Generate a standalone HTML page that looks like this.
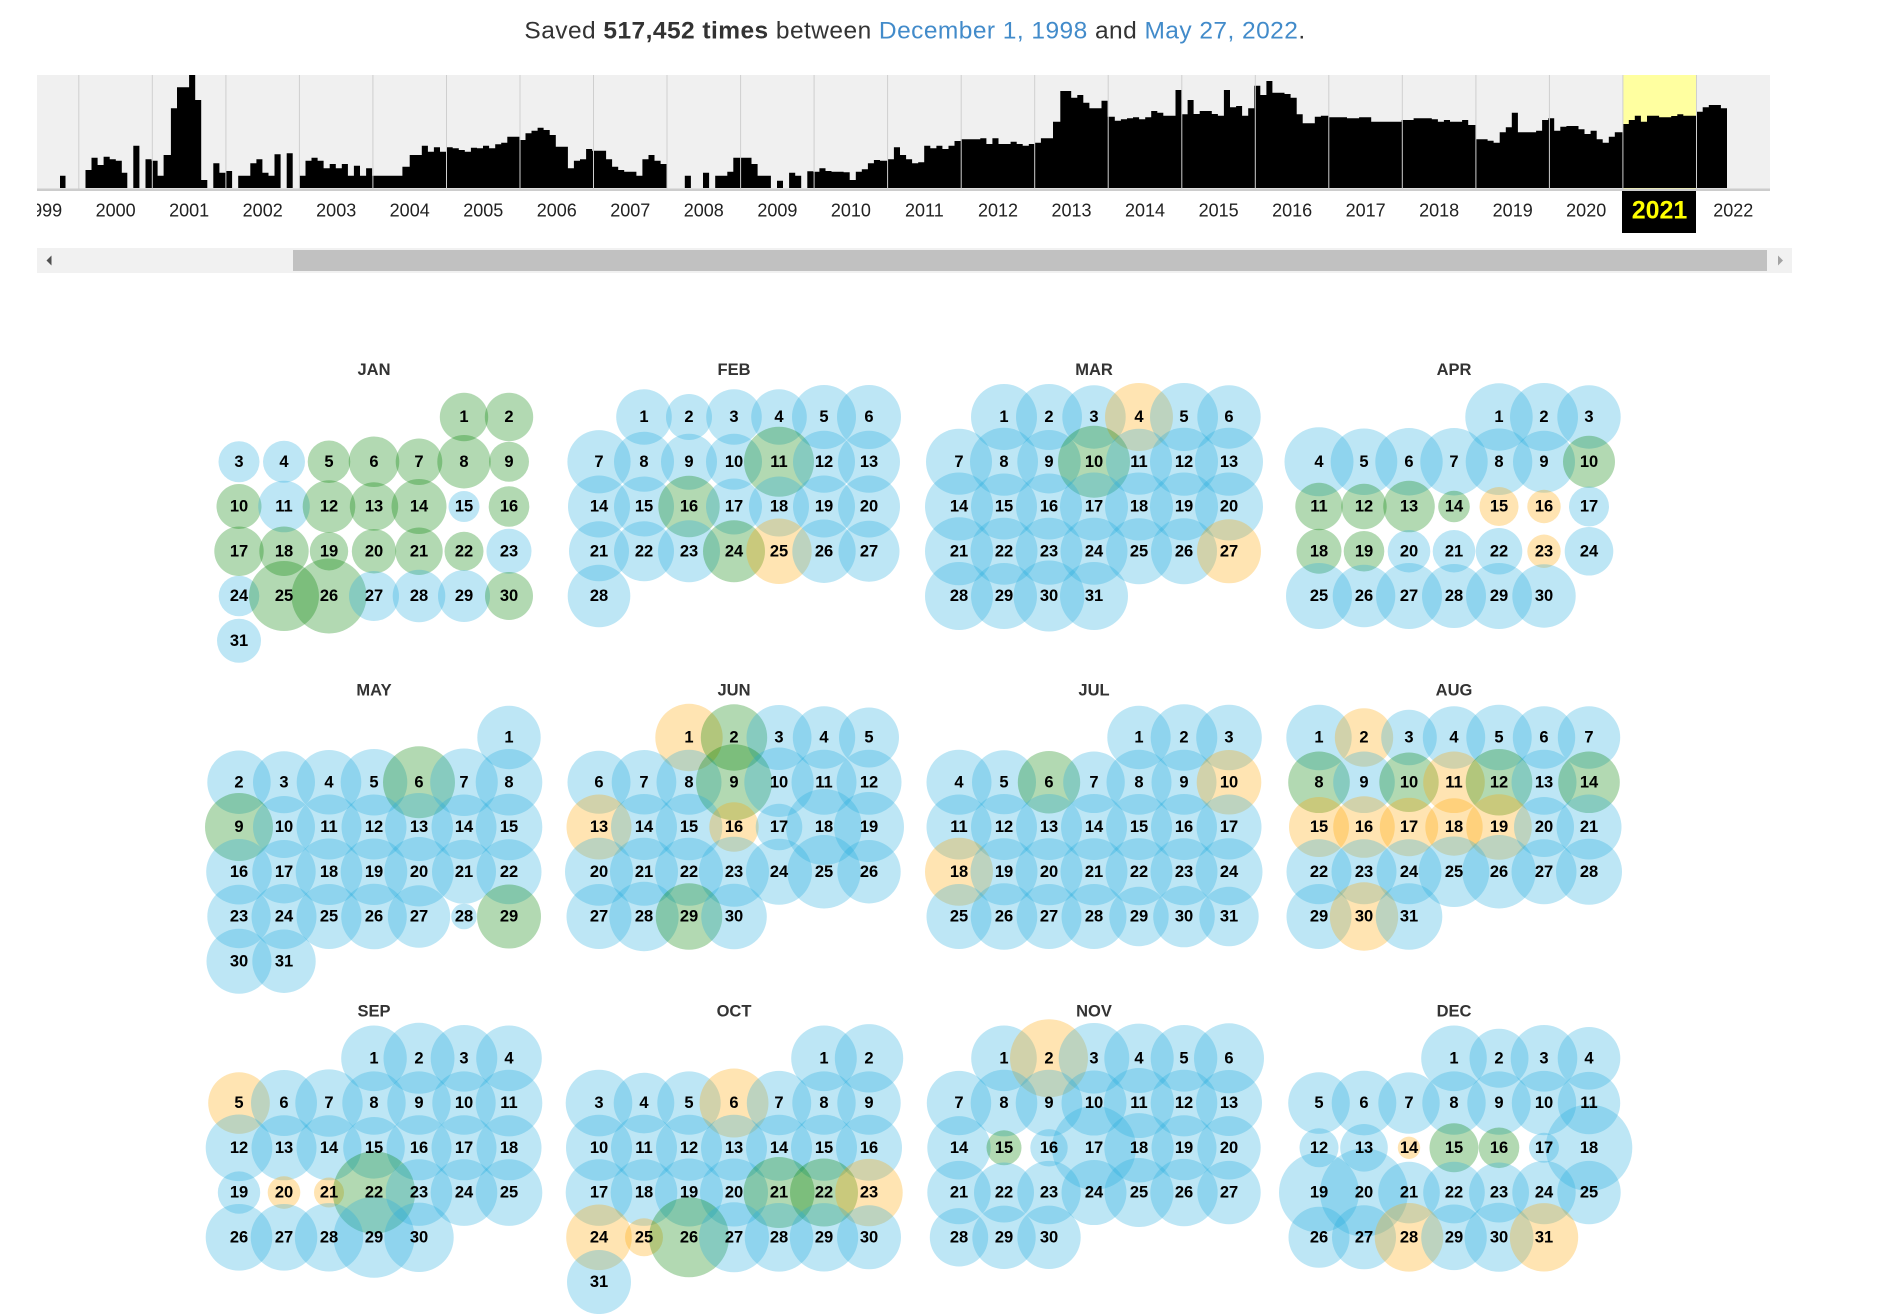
<!DOCTYPE html>
<html><head><meta charset="utf-8"><style>
html,body{margin:0;padding:0;background:#fff;width:1900px;height:1314px;overflow:hidden}
svg{display:block}
svg text{font-family:"Liberation Sans",Arial,sans-serif}
.b{fill:#26acde;fill-opacity:.3}
.g{fill:#008000;fill-opacity:.3}
.o{fill:#ffa500;fill-opacity:.3}
.n text{font-weight:bold;font-size:16.5px;text-anchor:middle;fill:#000}
.m{font-weight:bold;font-size:16.5px;text-anchor:middle;fill:#333}
.yl text{font-size:18px;text-anchor:middle;fill:#222}
</style></head><body>
<svg width="1900" height="1314" viewBox="0 0 1900 1314" xmlns="http://www.w3.org/2000/svg">
<defs><clipPath id="cp"><rect x="37" y="190" width="1733" height="45"/></clipPath></defs>
<text x="915" y="38.3" text-anchor="middle" style="font-size:24.5px;letter-spacing:.45px" fill="#333">Saved <tspan font-weight="bold">517,452 times</tspan> between <tspan fill="#428bca">December 1, 1998</tspan> and <tspan fill="#428bca">May 27, 2022</tspan>.</text>

<rect x="37" y="75" width="1733" height="114" fill="#f0f0f0"/>
<rect x="1623" y="75" width="73.5" height="114" fill="#ffffa0"/>
<path fill="#000" d="M60,188V175.7H65.5V188H85.5V170H91.5V157.7H97.6V165H103.6V156.7H109.7V159.3H115.8V160.7H121.8V172.7H127.3V188H133.3V145.7H139.4V188H145.5V159.3H151.5V160.7H157.6V175.7H163.6V155H170.9V108.3H177V87.3H189.1V75H195.2V100H201.2V180H207.3V188H213.3V163.3H219.4V172.7H225.5V171H232.1V188H238.2V175.7H250.3V163.3H256.4V159.3H262.4V172.7H268.5V175.7H274.5V154.3H280.6V188H286.7V153.3H292.7V188H299.4V175.7H305.5V160.7H311.5V157.7H317.6V160.7H323.6V168.3H329.7V164H335.8V168.3H341.8V164H347.9V175.7H353.9V165.7H360V175.7H366.1V168.3H372.1V175.7H402.4V166.7H409.7V155H421.8V145.7H427.9V151.7H433.9V147.3H440V151.7H446.7V147.3H452.7V148.3H458.8V150H464.8V151.7H470.9V147.7H477V148.3H483V145.7H489.1V148.3H495.2V144.3H501.2V142.7H507.3V136.7H519.4V140H525.5V133.3H531.5V130.7H537.6V127.7H543.6V130H549.7V135H555.8V146.7H567.9V168.3H573.9V160.7H580V159.3H586.1V149H592.1V150.7H606.1V159.3H612.1V166.7H618.2V170H624.2V171.7H636.4V175.7H642.4V159.3H648.5V155H654.5V160.7H660.6V164H666.7V188H684.8V175.7H690.9V188H703V172.7H709.1V188H715.2V175.7H727.3V171.7H733.3V157.7H751.5V164H757.6V175.7H770.9V188H777V180.7H783V188H789.1V172.7H795.2V175.7H801.2V188H807.3V171.3H813.3V171.7H819.4V168.3H825.5V171H831.5V171.7H843.6V172.3H849.7V180H855.8V171.7H861.8V169.3H867.9V163.3H873.9V160H880V160.7H887.9V159.3H893.9V147.3H900V155H906.1V159.3H912.1V163.3H918.2V162.3H924.2V145.7H930.3V148.3H936.4V145.7H942.4V149H948.5V145.7H954.5V141H960.9V139.3H980.3V138.3H986.4V144H992.4V138.3H998.5V144H1010.6V141.7H1016.7V144H1022.7V145.7H1028.8V144H1034.8V142.7H1040.9V138.3H1053V121.7H1060.3V91H1071.2V97.7H1077.3V95H1083.3V102.7H1089.4V108.3H1101.5V100.7H1107.6V116.7H1114.8V120.7H1120.9V119.3H1127V118.3H1133V117.3H1139.1V119.3H1145.2V117.3H1151.2V111H1157.3V112.7H1163.3V115.7H1175.5V90H1181.5V114.3H1187.6V100H1193.6V114H1199.7V111H1211.8V114H1217.9V115.7H1223.9V90H1230V107.3H1236.1V106H1242.1V115.7H1248.2V108.3H1254.2V85.7H1260.3V95H1266.4V81H1272.4V92.7H1284.5V94H1290.6V97.7H1296.7V114.3H1302.7V123.3H1314.8V116.7H1320.9V115.7H1328.8V117.3H1347V118.3H1359.1V117.3H1371.2V121.7H1401.5V120H1413.6V118.3H1431.8V119.3H1437.9V121.7H1443.9V120H1450V121.7H1462.1V120H1468.2V125H1475.5V139.3H1487.6V140.7H1493.6V142.7H1499.7V132.3H1505.8V127.3H1511.8V112.7H1517.9V132.3H1536.1V130.7H1542.1V120H1548.2V118.3H1554.2V130.7H1560.3V126.7H1566.4V126H1578.5V129.3H1584.5V134H1590.6V130.7H1596.7V139.3H1602.7V142.7H1608.8V136.7H1614.8V132.3H1622.7V124H1628.8V120H1634.8V115.7H1640.9V121.7H1647V115.7H1659.1V117.3H1671.2V116H1677.3V114.3H1683.3V115.7H1696.7V111.7H1702.7V107.3H1708.8V105H1720.9V108.3H1727V188Z"/>
<g stroke="#cfcfcf" stroke-width="1">
<line x1="78.8" y1="75" x2="78.8" y2="189"/><line x1="152.3" y1="75" x2="152.3" y2="189"/><line x1="225.9" y1="75" x2="225.9" y2="189"/><line x1="299.4" y1="75" x2="299.4" y2="189"/><line x1="372.9" y1="75" x2="372.9" y2="189"/><line x1="446.5" y1="75" x2="446.5" y2="189"/><line x1="520" y1="75" x2="520" y2="189"/><line x1="593.5" y1="75" x2="593.5" y2="189"/><line x1="667" y1="75" x2="667" y2="189"/><line x1="740.6" y1="75" x2="740.6" y2="189"/><line x1="814.1" y1="75" x2="814.1" y2="189"/><line x1="887.6" y1="75" x2="887.6" y2="189"/><line x1="961.2" y1="75" x2="961.2" y2="189"/><line x1="1034.7" y1="75" x2="1034.7" y2="189"/><line x1="1108.2" y1="75" x2="1108.2" y2="189"/><line x1="1181.8" y1="75" x2="1181.8" y2="189"/><line x1="1255.3" y1="75" x2="1255.3" y2="189"/><line x1="1328.8" y1="75" x2="1328.8" y2="189"/><line x1="1402.3" y1="75" x2="1402.3" y2="189"/><line x1="1475.9" y1="75" x2="1475.9" y2="189"/><line x1="1549.4" y1="75" x2="1549.4" y2="189"/><line x1="1622.9" y1="75" x2="1622.9" y2="189"/><line x1="1696.5" y1="75" x2="1696.5" y2="189"/>
</g>
<rect x="37" y="188.5" width="1733" height="2.5" fill="#cccccc"/>
<rect x="1622" y="191" width="74" height="42" fill="#000"/>
<g class="yl" clip-path="url(#cp)">
<text x="42.1" y="216.7">1999</text><text x="115.6" y="216.7">2000</text><text x="189.1" y="216.7">2001</text><text x="262.7" y="216.7">2002</text><text x="336.2" y="216.7">2003</text><text x="409.7" y="216.7">2004</text><text x="483.3" y="216.7">2005</text><text x="556.8" y="216.7">2006</text><text x="630.3" y="216.7">2007</text><text x="703.8" y="216.7">2008</text><text x="777.4" y="216.7">2009</text><text x="850.9" y="216.7">2010</text><text x="924.4" y="216.7">2011</text><text x="998" y="216.7">2012</text><text x="1071.5" y="216.7">2013</text><text x="1145" y="216.7">2014</text><text x="1218.6" y="216.7">2015</text><text x="1292.1" y="216.7">2016</text><text x="1365.6" y="216.7">2017</text><text x="1439.1" y="216.7">2018</text><text x="1512.7" y="216.7">2019</text><text x="1586.2" y="216.7">2020</text><text x="1733.3" y="216.7">2022</text>
</g>
<text x="1659.5" y="218.3" text-anchor="middle" style="font-size:25px;font-weight:bold" fill="#ffff00">2021</text>

<rect x="37" y="248" width="1755" height="25" fill="#f1f1f1"/>
<rect x="293" y="250" width="1474" height="21" fill="#c1c1c1"/>
<polygon points="46.5,260.5 51.5,255.5 51.5,265.5" fill="#505050"/>
<polygon points="1783,260.5 1778,255.5 1778,265.5" fill="#a3a3a3"/>

<!-- CIRCLES -->
<g transform="translate(239,417)">
<circle class="g" cx="225" cy="0" r="24.2"/><circle class="g" cx="270" cy="0" r="24.2"/>
<circle class="b" cx="0" cy="44.75" r="20.5"/><circle class="b" cx="45" cy="44.75" r="21"/><circle class="g" cx="90" cy="44.75" r="21.3"/><circle class="g" cx="135" cy="44.75" r="25.3"/><circle class="g" cx="180" cy="44.75" r="23.3"/><circle class="g" cx="225" cy="44.75" r="26.7"/><circle class="g" cx="270" cy="44.75" r="20"/>
<circle class="g" cx="0" cy="89.5" r="22.5"/><circle class="b" cx="45" cy="89.5" r="25.8"/><circle class="g" cx="90" cy="89.5" r="26.3"/><circle class="g" cx="135" cy="89.5" r="24.2"/><circle class="g" cx="180" cy="89.5" r="27.5"/><circle class="b" cx="225" cy="89.5" r="15.5"/><circle class="g" cx="270" cy="89.5" r="20.3"/>
<circle class="g" cx="0" cy="134.25" r="24.7"/><circle class="g" cx="45" cy="134.25" r="24.7"/><circle class="g" cx="90" cy="134.25" r="19.2"/><circle class="g" cx="135" cy="134.25" r="22.2"/><circle class="g" cx="180" cy="134.25" r="23.7"/><circle class="g" cx="225" cy="134.25" r="19.5"/><circle class="b" cx="270" cy="134.25" r="22.5"/>
<circle class="b" cx="0" cy="179" r="20.3"/><circle class="g" cx="45" cy="179" r="35"/><circle class="g" cx="90" cy="179" r="37.5"/><circle class="b" cx="135" cy="179" r="25"/><circle class="b" cx="180" cy="179" r="26.3"/><circle class="b" cx="225" cy="179" r="26"/><circle class="g" cx="270" cy="179" r="24"/>
<circle class="b" cx="0" cy="223.75" r="22"/>
</g>
<g transform="translate(599,417)">
<circle class="b" cx="45" cy="0" r="27.8"/><circle class="b" cx="90" cy="0" r="23"/><circle class="b" cx="135" cy="0" r="27.8"/><circle class="b" cx="180" cy="0" r="27.8"/><circle class="b" cx="225" cy="0" r="32"/><circle class="b" cx="270" cy="0" r="32"/>
<circle class="b" cx="0" cy="44.75" r="31.6"/><circle class="b" cx="45" cy="44.75" r="30"/><circle class="b" cx="90" cy="44.75" r="28"/><circle class="b" cx="135" cy="44.75" r="28"/><circle class="g" cx="180" cy="44.75" r="35"/><circle class="b" cx="225" cy="44.75" r="31"/><circle class="b" cx="270" cy="44.75" r="31"/>
<circle class="b" cx="0" cy="89.5" r="31"/><circle class="b" cx="45" cy="89.5" r="30"/><circle class="g" cx="90" cy="89.5" r="30.7"/><circle class="b" cx="135" cy="89.5" r="28"/><circle class="b" cx="180" cy="89.5" r="30"/><circle class="b" cx="225" cy="89.5" r="31"/><circle class="b" cx="270" cy="89.5" r="31"/>
<circle class="b" cx="0" cy="134.25" r="30"/><circle class="b" cx="45" cy="134.25" r="30"/><circle class="b" cx="90" cy="134.25" r="31"/><circle class="g" cx="135" cy="134.25" r="31"/><circle class="o" cx="180" cy="134.25" r="32.7"/><circle class="b" cx="225" cy="134.25" r="31.7"/><circle class="b" cx="270" cy="134.25" r="30.5"/>
<circle class="b" cx="0" cy="179" r="31.3"/>
</g>
<g transform="translate(959,417)">
<circle class="b" cx="45" cy="0" r="33"/><circle class="b" cx="90" cy="0" r="33"/><circle class="b" cx="135" cy="0" r="31.7"/><circle class="o" cx="180" cy="0" r="34"/><circle class="b" cx="225" cy="0" r="34"/><circle class="b" cx="270" cy="0" r="31.7"/>
<circle class="b" cx="0" cy="44.75" r="33"/><circle class="b" cx="45" cy="44.75" r="34"/><circle class="b" cx="90" cy="44.75" r="31.7"/><circle class="g" cx="135" cy="44.75" r="36"/><circle class="b" cx="180" cy="44.75" r="33"/><circle class="b" cx="225" cy="44.75" r="34"/><circle class="b" cx="270" cy="44.75" r="34"/>
<circle class="b" cx="0" cy="89.5" r="34"/><circle class="b" cx="45" cy="89.5" r="33"/><circle class="b" cx="90" cy="89.5" r="33"/><circle class="b" cx="135" cy="89.5" r="34"/><circle class="b" cx="180" cy="89.5" r="34"/><circle class="b" cx="225" cy="89.5" r="34"/><circle class="b" cx="270" cy="89.5" r="34"/>
<circle class="b" cx="0" cy="134.25" r="34"/><circle class="b" cx="45" cy="134.25" r="33.5"/><circle class="b" cx="90" cy="134.25" r="33.5"/><circle class="b" cx="135" cy="134.25" r="33.5"/><circle class="b" cx="180" cy="134.25" r="33"/><circle class="b" cx="225" cy="134.25" r="33"/><circle class="o" cx="270" cy="134.25" r="32"/>
<circle class="b" cx="0" cy="179" r="34"/><circle class="b" cx="45" cy="179" r="33"/><circle class="b" cx="90" cy="179" r="35.5"/><circle class="b" cx="135" cy="179" r="34"/>
</g>
<g transform="translate(1319,417)">
<circle class="b" cx="180" cy="0" r="33.7"/><circle class="b" cx="225" cy="0" r="34"/><circle class="b" cx="270" cy="0" r="31.7"/>
<circle class="b" cx="0" cy="44.75" r="34.5"/><circle class="b" cx="45" cy="44.75" r="33.3"/><circle class="b" cx="90" cy="44.75" r="33.7"/><circle class="b" cx="135" cy="44.75" r="33.7"/><circle class="b" cx="180" cy="44.75" r="33.3"/><circle class="b" cx="225" cy="44.75" r="31"/><circle class="g" cx="270" cy="44.75" r="26"/>
<circle class="g" cx="0" cy="89.5" r="23.7"/><circle class="g" cx="45" cy="89.5" r="22.7"/><circle class="g" cx="90" cy="89.5" r="25.8"/><circle class="g" cx="135" cy="89.5" r="15.8"/><circle class="o" cx="180" cy="89.5" r="19.5"/><circle class="o" cx="225" cy="89.5" r="16.7"/><circle class="b" cx="270" cy="89.5" r="20"/>
<circle class="g" cx="0" cy="134.25" r="22.5"/><circle class="g" cx="45" cy="134.25" r="20.3"/><circle class="b" cx="90" cy="134.25" r="21.3"/><circle class="b" cx="135" cy="134.25" r="21.3"/><circle class="b" cx="180" cy="134.25" r="23.3"/><circle class="o" cx="225" cy="134.25" r="16.7"/><circle class="b" cx="270" cy="134.25" r="24.3"/>
<circle class="b" cx="0" cy="179" r="33"/><circle class="b" cx="45" cy="179" r="31.3"/><circle class="b" cx="90" cy="179" r="33"/><circle class="b" cx="135" cy="179" r="32"/><circle class="b" cx="180" cy="179" r="33"/><circle class="b" cx="225" cy="179" r="31.7"/>
</g>
<g transform="translate(239,737.5)">
<circle class="b" cx="270" cy="0" r="31.7"/>
<circle class="b" cx="0" cy="44.75" r="31.7"/><circle class="b" cx="45" cy="44.75" r="31"/><circle class="b" cx="90" cy="44.75" r="32.3"/><circle class="b" cx="135" cy="44.75" r="33.3"/><circle class="g" cx="180" cy="44.75" r="36"/><circle class="b" cx="225" cy="44.75" r="33.8"/><circle class="b" cx="270" cy="44.75" r="33.3"/>
<circle class="g" cx="0" cy="89.5" r="34"/><circle class="b" cx="45" cy="89.5" r="31"/><circle class="b" cx="90" cy="89.5" r="32.5"/><circle class="b" cx="135" cy="89.5" r="32.5"/><circle class="b" cx="180" cy="89.5" r="34"/><circle class="b" cx="225" cy="89.5" r="32.5"/><circle class="b" cx="270" cy="89.5" r="33.3"/>
<circle class="b" cx="0" cy="134.25" r="32.8"/><circle class="b" cx="45" cy="134.25" r="31.7"/><circle class="b" cx="90" cy="134.25" r="33.3"/><circle class="b" cx="135" cy="134.25" r="33.3"/><circle class="b" cx="180" cy="134.25" r="34.7"/><circle class="b" cx="225" cy="134.25" r="32"/><circle class="b" cx="270" cy="134.25" r="32.5"/>
<circle class="b" cx="0" cy="179" r="31.7"/><circle class="b" cx="45" cy="179" r="32.5"/><circle class="b" cx="90" cy="179" r="32.5"/><circle class="b" cx="135" cy="179" r="32.8"/><circle class="b" cx="180" cy="179" r="31.2"/><circle class="b" cx="225" cy="179" r="12.8"/><circle class="g" cx="270" cy="179" r="32"/>
<circle class="b" cx="0" cy="223.75" r="32.5"/><circle class="b" cx="45" cy="223.75" r="31.7"/>
</g>
<g transform="translate(599,737.5)">
<circle class="o" cx="90" cy="0" r="33.7"/><circle class="g" cx="135" cy="0" r="33.2"/><circle class="b" cx="180" cy="0" r="32.5"/><circle class="b" cx="225" cy="0" r="31.2"/><circle class="b" cx="270" cy="0" r="30"/>
<circle class="b" cx="0" cy="44.75" r="31.5"/><circle class="b" cx="45" cy="44.75" r="32.3"/><circle class="b" cx="90" cy="44.75" r="32.5"/><circle class="g" cx="135" cy="44.75" r="38"/><circle class="b" cx="180" cy="44.75" r="34.7"/><circle class="b" cx="225" cy="44.75" r="32.5"/><circle class="b" cx="270" cy="44.75" r="32.5"/>
<circle class="o" cx="0" cy="89.5" r="32.5"/><circle class="b" cx="45" cy="89.5" r="33"/><circle class="b" cx="90" cy="89.5" r="33.3"/><circle class="o" cx="135" cy="89.5" r="24.7"/><circle class="b" cx="180" cy="89.5" r="23.3"/><circle class="b" cx="225" cy="89.5" r="38"/><circle class="b" cx="270" cy="89.5" r="35"/>
<circle class="b" cx="0" cy="134.25" r="34"/><circle class="b" cx="45" cy="134.25" r="34"/><circle class="b" cx="90" cy="134.25" r="34"/><circle class="b" cx="135" cy="134.25" r="35"/><circle class="b" cx="180" cy="134.25" r="33"/><circle class="b" cx="225" cy="134.25" r="36.7"/><circle class="b" cx="270" cy="134.25" r="31.7"/>
<circle class="b" cx="0" cy="179" r="32.5"/><circle class="b" cx="45" cy="179" r="34.7"/><circle class="g" cx="90" cy="179" r="33.3"/><circle class="b" cx="135" cy="179" r="32.8"/>
</g>
<g transform="translate(959,737.5)">
<circle class="b" cx="180" cy="0" r="31.7"/><circle class="b" cx="225" cy="0" r="33.3"/><circle class="b" cx="270" cy="0" r="32.8"/>
<circle class="b" cx="0" cy="44.75" r="32.5"/><circle class="b" cx="45" cy="44.75" r="32"/><circle class="g" cx="90" cy="44.75" r="31.2"/><circle class="b" cx="135" cy="44.75" r="30.8"/><circle class="b" cx="180" cy="44.75" r="32.5"/><circle class="b" cx="225" cy="44.75" r="32.5"/><circle class="o" cx="270" cy="44.75" r="32.3"/>
<circle class="b" cx="0" cy="89.5" r="32.5"/><circle class="b" cx="45" cy="89.5" r="33"/><circle class="b" cx="90" cy="89.5" r="33"/><circle class="b" cx="135" cy="89.5" r="33"/><circle class="b" cx="180" cy="89.5" r="33"/><circle class="b" cx="225" cy="89.5" r="33"/><circle class="b" cx="270" cy="89.5" r="32.5"/>
<circle class="o" cx="0" cy="134.25" r="34"/><circle class="b" cx="45" cy="134.25" r="33.5"/><circle class="b" cx="90" cy="134.25" r="33.5"/><circle class="b" cx="135" cy="134.25" r="33.5"/><circle class="b" cx="180" cy="134.25" r="33.5"/><circle class="b" cx="225" cy="134.25" r="33.5"/><circle class="b" cx="270" cy="134.25" r="33.5"/>
<circle class="b" cx="0" cy="179" r="32.5"/><circle class="b" cx="45" cy="179" r="33.3"/><circle class="b" cx="90" cy="179" r="32.5"/><circle class="b" cx="135" cy="179" r="32.5"/><circle class="b" cx="180" cy="179" r="29.7"/><circle class="b" cx="225" cy="179" r="30.8"/><circle class="b" cx="270" cy="179" r="29.7"/>
</g>
<g transform="translate(1319,737.5)">
<circle class="b" cx="0" cy="0" r="32.7"/><circle class="o" cx="45" cy="0" r="29.2"/><circle class="b" cx="90" cy="0" r="27.8"/><circle class="b" cx="135" cy="0" r="31.2"/><circle class="b" cx="180" cy="0" r="32.7"/><circle class="b" cx="225" cy="0" r="31.2"/><circle class="b" cx="270" cy="0" r="31.2"/>
<circle class="g" cx="0" cy="44.75" r="30.8"/><circle class="b" cx="45" cy="44.75" r="30.8"/><circle class="g" cx="90" cy="44.75" r="29.7"/><circle class="o" cx="135" cy="44.75" r="30.8"/><circle class="g" cx="180" cy="44.75" r="33.3"/><circle class="b" cx="225" cy="44.75" r="32.5"/><circle class="g" cx="270" cy="44.75" r="30.8"/>
<circle class="o" cx="0" cy="89.5" r="30"/><circle class="o" cx="45" cy="89.5" r="30.8"/><circle class="o" cx="90" cy="89.5" r="29.2"/><circle class="o" cx="135" cy="89.5" r="28.7"/><circle class="o" cx="180" cy="89.5" r="32.8"/><circle class="b" cx="225" cy="89.5" r="30"/><circle class="b" cx="270" cy="89.5" r="32.5"/>
<circle class="b" cx="0" cy="134.25" r="32.5"/><circle class="b" cx="45" cy="134.25" r="32.5"/><circle class="b" cx="90" cy="134.25" r="32.5"/><circle class="b" cx="135" cy="134.25" r="35.3"/><circle class="b" cx="180" cy="134.25" r="36.7"/><circle class="b" cx="225" cy="134.25" r="32.5"/><circle class="b" cx="270" cy="134.25" r="33"/>
<circle class="b" cx="0" cy="179" r="32.5"/><circle class="o" cx="45" cy="179" r="34.2"/><circle class="b" cx="90" cy="179" r="33.3"/>
</g>
<g transform="translate(239,1058.3)">
<circle class="b" cx="135" cy="0" r="32.8"/><circle class="b" cx="180" cy="0" r="35.5"/><circle class="b" cx="225" cy="0" r="33.3"/><circle class="b" cx="270" cy="0" r="32.8"/>
<circle class="o" cx="0" cy="44.75" r="30.8"/><circle class="b" cx="45" cy="44.75" r="33"/><circle class="b" cx="90" cy="44.75" r="33.7"/><circle class="b" cx="135" cy="44.75" r="31.7"/><circle class="b" cx="180" cy="44.75" r="31.7"/><circle class="b" cx="225" cy="44.75" r="31.7"/><circle class="b" cx="270" cy="44.75" r="33.3"/>
<circle class="b" cx="0" cy="89.5" r="33.3"/><circle class="b" cx="45" cy="89.5" r="32.5"/><circle class="b" cx="90" cy="89.5" r="32.5"/><circle class="b" cx="135" cy="89.5" r="30.8"/><circle class="b" cx="180" cy="89.5" r="32.5"/><circle class="b" cx="225" cy="89.5" r="32.5"/><circle class="b" cx="270" cy="89.5" r="32.5"/>
<circle class="b" cx="0" cy="134.25" r="21.2"/><circle class="o" cx="45" cy="134.25" r="16.3"/><circle class="o" cx="90" cy="134.25" r="15"/><circle class="g" cx="135" cy="134.25" r="41.2"/><circle class="b" cx="180" cy="134.25" r="33.3"/><circle class="b" cx="225" cy="134.25" r="33.3"/><circle class="b" cx="270" cy="134.25" r="33.3"/>
<circle class="b" cx="0" cy="179" r="33.3"/><circle class="b" cx="45" cy="179" r="33.3"/><circle class="b" cx="90" cy="179" r="34.2"/><circle class="b" cx="135" cy="179" r="40.5"/><circle class="b" cx="180" cy="179" r="34.7"/>
</g>
<g transform="translate(599,1058.3)">
<circle class="b" cx="225" cy="0" r="32.8"/><circle class="b" cx="270" cy="0" r="34.2"/>
<circle class="b" cx="0" cy="44.75" r="33.3"/><circle class="b" cx="45" cy="44.75" r="30.3"/><circle class="b" cx="90" cy="44.75" r="31.7"/><circle class="o" cx="135" cy="44.75" r="34.5"/><circle class="b" cx="180" cy="44.75" r="32.2"/><circle class="b" cx="225" cy="44.75" r="31.7"/><circle class="b" cx="270" cy="44.75" r="31.7"/>
<circle class="b" cx="0" cy="89.5" r="33"/><circle class="b" cx="45" cy="89.5" r="33"/><circle class="b" cx="90" cy="89.5" r="33"/><circle class="b" cx="135" cy="89.5" r="33"/><circle class="b" cx="180" cy="89.5" r="33"/><circle class="b" cx="225" cy="89.5" r="33"/><circle class="b" cx="270" cy="89.5" r="33"/>
<circle class="b" cx="0" cy="134.25" r="33.3"/><circle class="b" cx="45" cy="134.25" r="33.3"/><circle class="b" cx="90" cy="134.25" r="34"/><circle class="b" cx="135" cy="134.25" r="34"/><circle class="g" cx="180" cy="134.25" r="35.5"/><circle class="g" cx="225" cy="134.25" r="34"/><circle class="o" cx="270" cy="134.25" r="33.7"/>
<circle class="o" cx="0" cy="179" r="32.8"/><circle class="o" cx="45" cy="179" r="19"/><circle class="g" cx="90" cy="179" r="40"/><circle class="b" cx="135" cy="179" r="35"/><circle class="b" cx="180" cy="179" r="34.3"/><circle class="b" cx="225" cy="179" r="34.2"/><circle class="b" cx="270" cy="179" r="32"/>
<circle class="b" cx="0" cy="223.75" r="32"/>
</g>
<g transform="translate(959,1058.3)">
<circle class="b" cx="45" cy="0" r="32.8"/><circle class="o" cx="90" cy="0" r="39"/><circle class="b" cx="135" cy="0" r="35.3"/><circle class="b" cx="180" cy="0" r="34.7"/><circle class="b" cx="225" cy="0" r="33.3"/><circle class="b" cx="270" cy="0" r="35"/>
<circle class="b" cx="0" cy="44.75" r="32.2"/><circle class="b" cx="45" cy="44.75" r="33.3"/><circle class="b" cx="90" cy="44.75" r="33.3"/><circle class="b" cx="135" cy="44.75" r="32.5"/><circle class="b" cx="180" cy="44.75" r="35"/><circle class="b" cx="225" cy="44.75" r="33.3"/><circle class="b" cx="270" cy="44.75" r="33"/>
<circle class="b" cx="0" cy="89.5" r="31.7"/><circle class="g" cx="45" cy="89.5" r="17.5"/><circle class="b" cx="90" cy="89.5" r="18.7"/><circle class="b" cx="135" cy="89.5" r="42"/><circle class="b" cx="180" cy="89.5" r="34.7"/><circle class="b" cx="225" cy="89.5" r="32.5"/><circle class="b" cx="270" cy="89.5" r="31.7"/>
<circle class="b" cx="0" cy="134.25" r="31.7"/><circle class="b" cx="45" cy="134.25" r="30"/><circle class="b" cx="90" cy="134.25" r="31.7"/><circle class="b" cx="135" cy="134.25" r="32.5"/><circle class="b" cx="180" cy="134.25" r="34.5"/><circle class="b" cx="225" cy="134.25" r="33.7"/><circle class="b" cx="270" cy="134.25" r="31.7"/>
<circle class="b" cx="0" cy="179" r="29.2"/><circle class="b" cx="45" cy="179" r="31.7"/><circle class="b" cx="90" cy="179" r="31.7"/>
</g>
<g transform="translate(1319,1058.3)">
<circle class="b" cx="135" cy="0" r="32.8"/><circle class="b" cx="180" cy="0" r="29.5"/><circle class="b" cx="225" cy="0" r="33.3"/><circle class="b" cx="270" cy="0" r="31.3"/>
<circle class="b" cx="0" cy="44.75" r="30.8"/><circle class="b" cx="45" cy="44.75" r="32.3"/><circle class="b" cx="90" cy="44.75" r="30.7"/><circle class="b" cx="135" cy="44.75" r="31.7"/><circle class="b" cx="180" cy="44.75" r="31.7"/><circle class="b" cx="225" cy="44.75" r="32.2"/><circle class="b" cx="270" cy="44.75" r="31.2"/>
<circle class="b" cx="0" cy="89.5" r="19.5"/><circle class="b" cx="45" cy="89.5" r="23.8"/><circle class="o" cx="90" cy="89.5" r="11.2"/><circle class="g" cx="135" cy="89.5" r="24.5"/><circle class="g" cx="180" cy="89.5" r="20.3"/><circle class="b" cx="225" cy="89.5" r="15"/><circle class="b" cx="270" cy="89.5" r="43.3"/>
<circle class="b" cx="0" cy="134.25" r="40"/><circle class="b" cx="45" cy="134.25" r="44"/><circle class="b" cx="90" cy="134.25" r="30.8"/><circle class="b" cx="135" cy="134.25" r="30.8"/><circle class="b" cx="180" cy="134.25" r="30"/><circle class="b" cx="225" cy="134.25" r="31.7"/><circle class="b" cx="270" cy="134.25" r="31.7"/>
<circle class="b" cx="0" cy="179" r="30.5"/><circle class="b" cx="45" cy="179" r="32"/><circle class="o" cx="90" cy="179" r="34.3"/><circle class="b" cx="135" cy="179" r="32.8"/><circle class="b" cx="180" cy="179" r="34.5"/><circle class="o" cx="225" cy="179" r="34.2"/>
</g>

<!-- MONTH LABELS -->
<text class="m" x="374" y="375">JAN</text><text class="m" x="734" y="375">FEB</text><text class="m" x="1094" y="375">MAR</text><text class="m" x="1454" y="375">APR</text>
<text class="m" x="374" y="695.5">MAY</text><text class="m" x="734" y="695.5">JUN</text><text class="m" x="1094" y="695.5">JUL</text><text class="m" x="1454" y="695.5">AUG</text>
<text class="m" x="374" y="1016.3">SEP</text><text class="m" x="734" y="1016.3">OCT</text><text class="m" x="1094" y="1016.3">NOV</text><text class="m" x="1454" y="1016.3">DEC</text>

<!-- DAY NUMBERS -->
<g class="n" transform="translate(239,422)">
<text x="225" y="0">1</text><text x="270" y="0">2</text>
<text x="0" y="44.75">3</text><text x="45" y="44.75">4</text><text x="90" y="44.75">5</text><text x="135" y="44.75">6</text><text x="180" y="44.75">7</text><text x="225" y="44.75">8</text><text x="270" y="44.75">9</text>
<text x="0" y="89.5">10</text><text x="45" y="89.5">11</text><text x="90" y="89.5">12</text><text x="135" y="89.5">13</text><text x="180" y="89.5">14</text><text x="225" y="89.5">15</text><text x="270" y="89.5">16</text>
<text x="0" y="134.25">17</text><text x="45" y="134.25">18</text><text x="90" y="134.25">19</text><text x="135" y="134.25">20</text><text x="180" y="134.25">21</text><text x="225" y="134.25">22</text><text x="270" y="134.25">23</text>
<text x="0" y="179">24</text><text x="45" y="179">25</text><text x="90" y="179">26</text><text x="135" y="179">27</text><text x="180" y="179">28</text><text x="225" y="179">29</text><text x="270" y="179">30</text>
<text x="0" y="223.75">31</text>
</g>
<g class="n" transform="translate(599,422)">
<text x="45" y="0">1</text><text x="90" y="0">2</text><text x="135" y="0">3</text><text x="180" y="0">4</text><text x="225" y="0">5</text><text x="270" y="0">6</text>
<text x="0" y="44.75">7</text><text x="45" y="44.75">8</text><text x="90" y="44.75">9</text><text x="135" y="44.75">10</text><text x="180" y="44.75">11</text><text x="225" y="44.75">12</text><text x="270" y="44.75">13</text>
<text x="0" y="89.5">14</text><text x="45" y="89.5">15</text><text x="90" y="89.5">16</text><text x="135" y="89.5">17</text><text x="180" y="89.5">18</text><text x="225" y="89.5">19</text><text x="270" y="89.5">20</text>
<text x="0" y="134.25">21</text><text x="45" y="134.25">22</text><text x="90" y="134.25">23</text><text x="135" y="134.25">24</text><text x="180" y="134.25">25</text><text x="225" y="134.25">26</text><text x="270" y="134.25">27</text>
<text x="0" y="179">28</text>
</g>
<g class="n" transform="translate(959,422)">
<text x="45" y="0">1</text><text x="90" y="0">2</text><text x="135" y="0">3</text><text x="180" y="0">4</text><text x="225" y="0">5</text><text x="270" y="0">6</text>
<text x="0" y="44.75">7</text><text x="45" y="44.75">8</text><text x="90" y="44.75">9</text><text x="135" y="44.75">10</text><text x="180" y="44.75">11</text><text x="225" y="44.75">12</text><text x="270" y="44.75">13</text>
<text x="0" y="89.5">14</text><text x="45" y="89.5">15</text><text x="90" y="89.5">16</text><text x="135" y="89.5">17</text><text x="180" y="89.5">18</text><text x="225" y="89.5">19</text><text x="270" y="89.5">20</text>
<text x="0" y="134.25">21</text><text x="45" y="134.25">22</text><text x="90" y="134.25">23</text><text x="135" y="134.25">24</text><text x="180" y="134.25">25</text><text x="225" y="134.25">26</text><text x="270" y="134.25">27</text>
<text x="0" y="179">28</text><text x="45" y="179">29</text><text x="90" y="179">30</text><text x="135" y="179">31</text>
</g>
<g class="n" transform="translate(1319,422)">
<text x="180" y="0">1</text><text x="225" y="0">2</text><text x="270" y="0">3</text>
<text x="0" y="44.75">4</text><text x="45" y="44.75">5</text><text x="90" y="44.75">6</text><text x="135" y="44.75">7</text><text x="180" y="44.75">8</text><text x="225" y="44.75">9</text><text x="270" y="44.75">10</text>
<text x="0" y="89.5">11</text><text x="45" y="89.5">12</text><text x="90" y="89.5">13</text><text x="135" y="89.5">14</text><text x="180" y="89.5">15</text><text x="225" y="89.5">16</text><text x="270" y="89.5">17</text>
<text x="0" y="134.25">18</text><text x="45" y="134.25">19</text><text x="90" y="134.25">20</text><text x="135" y="134.25">21</text><text x="180" y="134.25">22</text><text x="225" y="134.25">23</text><text x="270" y="134.25">24</text>
<text x="0" y="179">25</text><text x="45" y="179">26</text><text x="90" y="179">27</text><text x="135" y="179">28</text><text x="180" y="179">29</text><text x="225" y="179">30</text>
</g>
<g class="n" transform="translate(239,742.5)">
<text x="270" y="0">1</text>
<text x="0" y="44.75">2</text><text x="45" y="44.75">3</text><text x="90" y="44.75">4</text><text x="135" y="44.75">5</text><text x="180" y="44.75">6</text><text x="225" y="44.75">7</text><text x="270" y="44.75">8</text>
<text x="0" y="89.5">9</text><text x="45" y="89.5">10</text><text x="90" y="89.5">11</text><text x="135" y="89.5">12</text><text x="180" y="89.5">13</text><text x="225" y="89.5">14</text><text x="270" y="89.5">15</text>
<text x="0" y="134.25">16</text><text x="45" y="134.25">17</text><text x="90" y="134.25">18</text><text x="135" y="134.25">19</text><text x="180" y="134.25">20</text><text x="225" y="134.25">21</text><text x="270" y="134.25">22</text>
<text x="0" y="179">23</text><text x="45" y="179">24</text><text x="90" y="179">25</text><text x="135" y="179">26</text><text x="180" y="179">27</text><text x="225" y="179">28</text><text x="270" y="179">29</text>
<text x="0" y="223.75">30</text><text x="45" y="223.75">31</text>
</g>
<g class="n" transform="translate(599,742.5)">
<text x="90" y="0">1</text><text x="135" y="0">2</text><text x="180" y="0">3</text><text x="225" y="0">4</text><text x="270" y="0">5</text>
<text x="0" y="44.75">6</text><text x="45" y="44.75">7</text><text x="90" y="44.75">8</text><text x="135" y="44.75">9</text><text x="180" y="44.75">10</text><text x="225" y="44.75">11</text><text x="270" y="44.75">12</text>
<text x="0" y="89.5">13</text><text x="45" y="89.5">14</text><text x="90" y="89.5">15</text><text x="135" y="89.5">16</text><text x="180" y="89.5">17</text><text x="225" y="89.5">18</text><text x="270" y="89.5">19</text>
<text x="0" y="134.25">20</text><text x="45" y="134.25">21</text><text x="90" y="134.25">22</text><text x="135" y="134.25">23</text><text x="180" y="134.25">24</text><text x="225" y="134.25">25</text><text x="270" y="134.25">26</text>
<text x="0" y="179">27</text><text x="45" y="179">28</text><text x="90" y="179">29</text><text x="135" y="179">30</text>
</g>
<g class="n" transform="translate(959,742.5)">
<text x="180" y="0">1</text><text x="225" y="0">2</text><text x="270" y="0">3</text>
<text x="0" y="44.75">4</text><text x="45" y="44.75">5</text><text x="90" y="44.75">6</text><text x="135" y="44.75">7</text><text x="180" y="44.75">8</text><text x="225" y="44.75">9</text><text x="270" y="44.75">10</text>
<text x="0" y="89.5">11</text><text x="45" y="89.5">12</text><text x="90" y="89.5">13</text><text x="135" y="89.5">14</text><text x="180" y="89.5">15</text><text x="225" y="89.5">16</text><text x="270" y="89.5">17</text>
<text x="0" y="134.25">18</text><text x="45" y="134.25">19</text><text x="90" y="134.25">20</text><text x="135" y="134.25">21</text><text x="180" y="134.25">22</text><text x="225" y="134.25">23</text><text x="270" y="134.25">24</text>
<text x="0" y="179">25</text><text x="45" y="179">26</text><text x="90" y="179">27</text><text x="135" y="179">28</text><text x="180" y="179">29</text><text x="225" y="179">30</text><text x="270" y="179">31</text>
</g>
<g class="n" transform="translate(1319,742.5)">
<text x="0" y="0">1</text><text x="45" y="0">2</text><text x="90" y="0">3</text><text x="135" y="0">4</text><text x="180" y="0">5</text><text x="225" y="0">6</text><text x="270" y="0">7</text>
<text x="0" y="44.75">8</text><text x="45" y="44.75">9</text><text x="90" y="44.75">10</text><text x="135" y="44.75">11</text><text x="180" y="44.75">12</text><text x="225" y="44.75">13</text><text x="270" y="44.75">14</text>
<text x="0" y="89.5">15</text><text x="45" y="89.5">16</text><text x="90" y="89.5">17</text><text x="135" y="89.5">18</text><text x="180" y="89.5">19</text><text x="225" y="89.5">20</text><text x="270" y="89.5">21</text>
<text x="0" y="134.25">22</text><text x="45" y="134.25">23</text><text x="90" y="134.25">24</text><text x="135" y="134.25">25</text><text x="180" y="134.25">26</text><text x="225" y="134.25">27</text><text x="270" y="134.25">28</text>
<text x="0" y="179">29</text><text x="45" y="179">30</text><text x="90" y="179">31</text>
</g>
<g class="n" transform="translate(239,1063.3)">
<text x="135" y="0">1</text><text x="180" y="0">2</text><text x="225" y="0">3</text><text x="270" y="0">4</text>
<text x="0" y="44.75">5</text><text x="45" y="44.75">6</text><text x="90" y="44.75">7</text><text x="135" y="44.75">8</text><text x="180" y="44.75">9</text><text x="225" y="44.75">10</text><text x="270" y="44.75">11</text>
<text x="0" y="89.5">12</text><text x="45" y="89.5">13</text><text x="90" y="89.5">14</text><text x="135" y="89.5">15</text><text x="180" y="89.5">16</text><text x="225" y="89.5">17</text><text x="270" y="89.5">18</text>
<text x="0" y="134.25">19</text><text x="45" y="134.25">20</text><text x="90" y="134.25">21</text><text x="135" y="134.25">22</text><text x="180" y="134.25">23</text><text x="225" y="134.25">24</text><text x="270" y="134.25">25</text>
<text x="0" y="179">26</text><text x="45" y="179">27</text><text x="90" y="179">28</text><text x="135" y="179">29</text><text x="180" y="179">30</text>
</g>
<g class="n" transform="translate(599,1063.3)">
<text x="225" y="0">1</text><text x="270" y="0">2</text>
<text x="0" y="44.75">3</text><text x="45" y="44.75">4</text><text x="90" y="44.75">5</text><text x="135" y="44.75">6</text><text x="180" y="44.75">7</text><text x="225" y="44.75">8</text><text x="270" y="44.75">9</text>
<text x="0" y="89.5">10</text><text x="45" y="89.5">11</text><text x="90" y="89.5">12</text><text x="135" y="89.5">13</text><text x="180" y="89.5">14</text><text x="225" y="89.5">15</text><text x="270" y="89.5">16</text>
<text x="0" y="134.25">17</text><text x="45" y="134.25">18</text><text x="90" y="134.25">19</text><text x="135" y="134.25">20</text><text x="180" y="134.25">21</text><text x="225" y="134.25">22</text><text x="270" y="134.25">23</text>
<text x="0" y="179">24</text><text x="45" y="179">25</text><text x="90" y="179">26</text><text x="135" y="179">27</text><text x="180" y="179">28</text><text x="225" y="179">29</text><text x="270" y="179">30</text>
<text x="0" y="223.75">31</text>
</g>
<g class="n" transform="translate(959,1063.3)">
<text x="45" y="0">1</text><text x="90" y="0">2</text><text x="135" y="0">3</text><text x="180" y="0">4</text><text x="225" y="0">5</text><text x="270" y="0">6</text>
<text x="0" y="44.75">7</text><text x="45" y="44.75">8</text><text x="90" y="44.75">9</text><text x="135" y="44.75">10</text><text x="180" y="44.75">11</text><text x="225" y="44.75">12</text><text x="270" y="44.75">13</text>
<text x="0" y="89.5">14</text><text x="45" y="89.5">15</text><text x="90" y="89.5">16</text><text x="135" y="89.5">17</text><text x="180" y="89.5">18</text><text x="225" y="89.5">19</text><text x="270" y="89.5">20</text>
<text x="0" y="134.25">21</text><text x="45" y="134.25">22</text><text x="90" y="134.25">23</text><text x="135" y="134.25">24</text><text x="180" y="134.25">25</text><text x="225" y="134.25">26</text><text x="270" y="134.25">27</text>
<text x="0" y="179">28</text><text x="45" y="179">29</text><text x="90" y="179">30</text>
</g>
<g class="n" transform="translate(1319,1063.3)">
<text x="135" y="0">1</text><text x="180" y="0">2</text><text x="225" y="0">3</text><text x="270" y="0">4</text>
<text x="0" y="44.75">5</text><text x="45" y="44.75">6</text><text x="90" y="44.75">7</text><text x="135" y="44.75">8</text><text x="180" y="44.75">9</text><text x="225" y="44.75">10</text><text x="270" y="44.75">11</text>
<text x="0" y="89.5">12</text><text x="45" y="89.5">13</text><text x="90" y="89.5">14</text><text x="135" y="89.5">15</text><text x="180" y="89.5">16</text><text x="225" y="89.5">17</text><text x="270" y="89.5">18</text>
<text x="0" y="134.25">19</text><text x="45" y="134.25">20</text><text x="90" y="134.25">21</text><text x="135" y="134.25">22</text><text x="180" y="134.25">23</text><text x="225" y="134.25">24</text><text x="270" y="134.25">25</text>
<text x="0" y="179">26</text><text x="45" y="179">27</text><text x="90" y="179">28</text><text x="135" y="179">29</text><text x="180" y="179">30</text><text x="225" y="179">31</text>
</g>
</svg>
</body></html>
